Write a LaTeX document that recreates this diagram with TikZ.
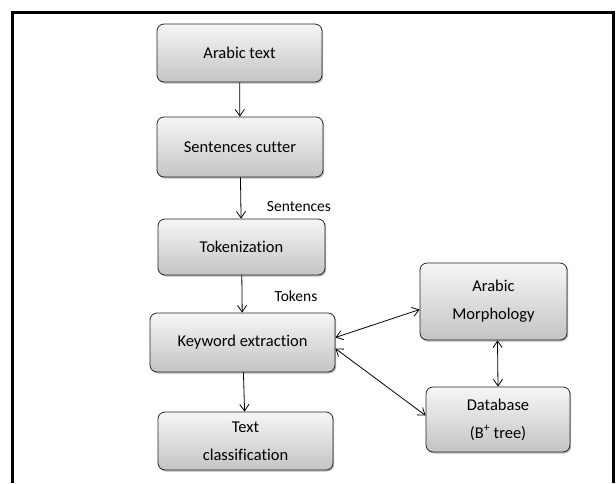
\documentclass[tikz,border=0pt]{standalone}
\usepackage{fontspec}
\setmainfont{Carlito}[Ligatures={NoCommon}]
\usetikzlibrary{arrows.meta,shadows}
\definecolor{boxtop}{RGB}{246,246,246}
\definecolor{boxbot}{RGB}{196,196,196}
\tikzset{
  stage/.style={draw=black!85, line width=0.8pt, rounded corners=7pt,
    top color=boxtop, bottom color=boxbot, align=center,
    font=\fontsize{16.5}{28}\selectfont,
    drop shadow={shadow xshift=1.2pt, shadow yshift=-1.5pt, opacity=0.55}},
  flowlabel/.style={font=\fontsize{15.5}{18}\selectfont}
}
\begin{document}
\begin{tikzpicture}[x=1pt,y=-1pt]
    \useasboundingbox (0,0) rectangle (616,483);
    %% Draw the frame
    \draw[line width=3pt] (12,483) -- (12,12) -- (613,12) -- (613,483);
    %% Draw the nodes
    \node[stage, minimum width=165pt, minimum height=58pt] (atext) at (239.5,53) {Arabic text};
    \node[stage, minimum width=166pt, minimum height=60pt] (cutter) at (240,147) {Sentences cutter};
    \node[stage, minimum width=167pt, minimum height=56pt] (token) at (241.5,247) {Tokenization};
    \node[stage, minimum width=185pt, minimum height=59pt] (keyword) at (242.5,342.5) {Keyword extraction};
    \node[stage, minimum width=175pt, minimum height=58pt] (classif) at (245.5,441) {Text\\classification};
    \node[stage, minimum width=147pt, minimum height=77pt] (morph) at (493.5,301.5) {Arabic\\Morphology};
    \node[stage, minimum width=144pt, minimum height=65pt] (dbase) at (498,419.5) {Database\\(B\textsuperscript{+} tree)};
    %% Draw the flow labels
    \node[flowlabel] (sentlbl) at (299,207) {Sentences};
    \node[flowlabel] (toklbl) at (296,296) {Tokens};
    %% Draw the edges
    \begin{scope}[every path/.style={line width=0.8pt, -{Straight Barb[angle=70:8pt]}}]
      \draw (atext) -- (cutter);
      \draw (cutter) -- (token);
      \draw (token) -- (keyword);
      \draw (keyword) -- (classif);
    \end{scope}
    \begin{scope}[every path/.style={line width=0.8pt, {Straight Barb[angle=70:8pt]}-{Straight Barb[angle=70:8pt]}}]
      \draw ([yshift=5pt]keyword.east) -- ([yshift=-8pt]morph.west);
      \draw ([yshift=-6pt]keyword.east) -- ([yshift=4pt]dbase.west);
      \draw ([xshift=4pt]morph.south) -- (dbase.north);
    \end{scope}
  \end{tikzpicture}
\end{document}
